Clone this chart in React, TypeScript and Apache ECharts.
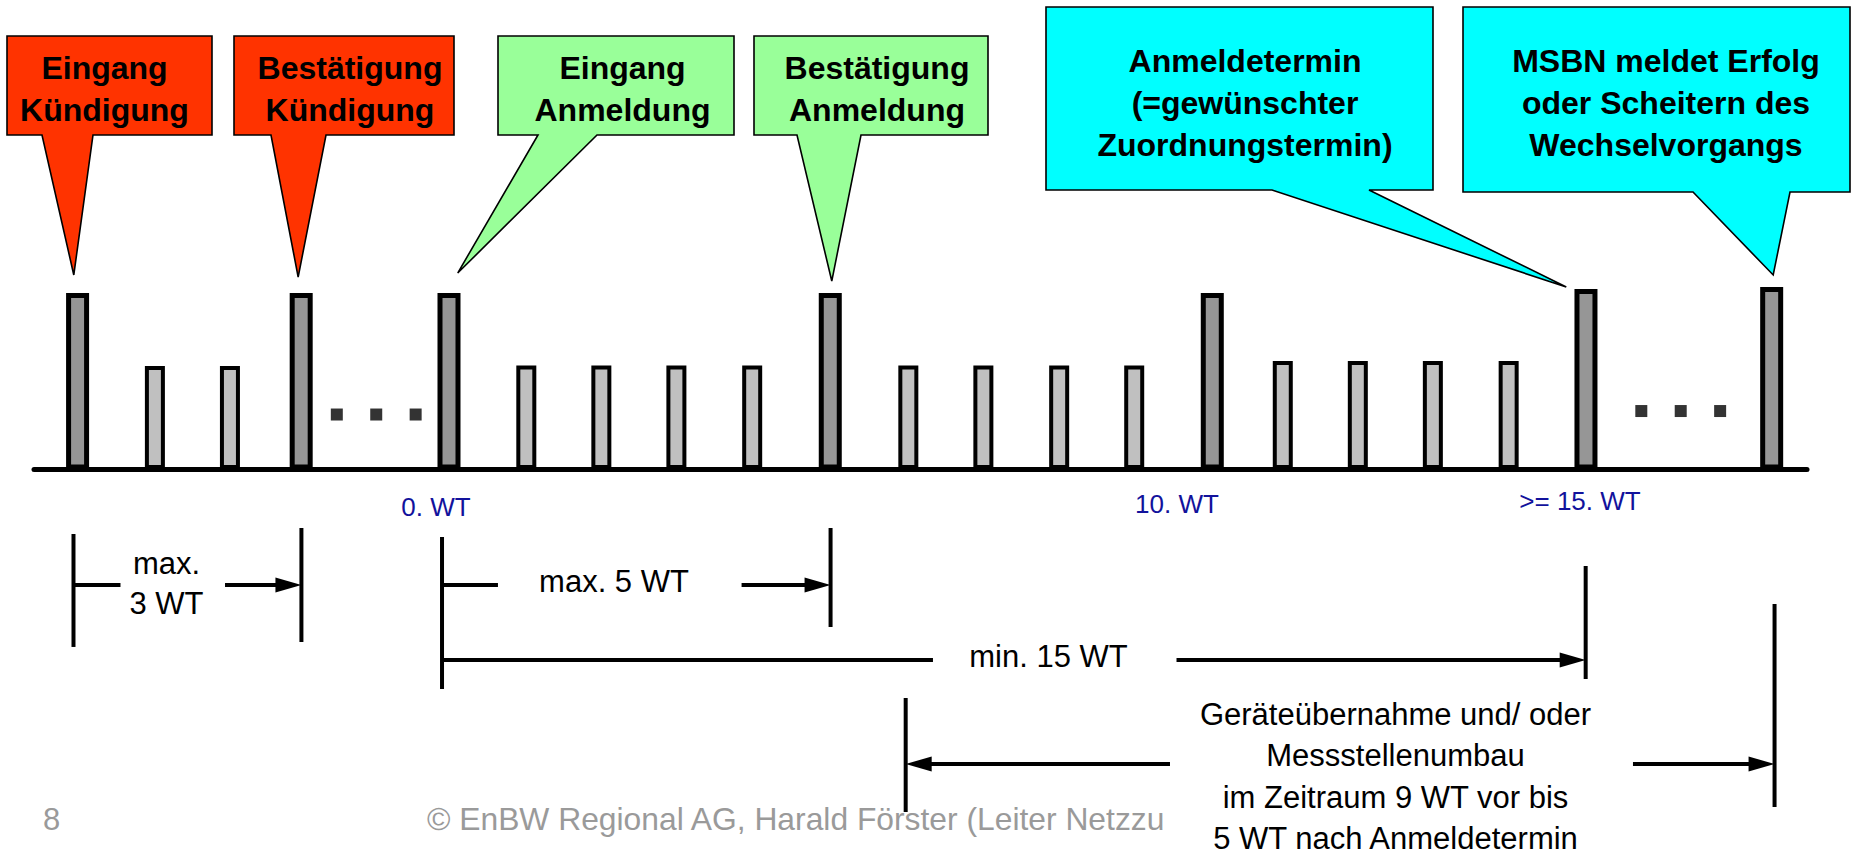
import React, { useEffect, useRef } from "react";
import * as echarts from "echarts";

// ---------- data (axis units: x = working days "WT", y = relative bar height) ----------
const BAR_X = [-4.9, -3.88, -2.89, -1.95, 0, 1.02, 2.01, 3.0, 4.0, 5.03, 6.06, 7.05, 8.05, 9.04, 10.07, 11.0, 11.99, 12.98, 13.98, 15.0, 17.45];
const BAR_H = [100, 58.3, 58.3, 100, 100, 58.6, 58.6, 58.6, 58.6, 100, 58.6, 58.6, 58.6, 58.6, 100, 61.2, 61.2, 61.2, 61.2, 102.3, 103.4];
const BAR_KIND = ["major", "minor", "minor", "major", "major", "minor", "minor", "minor", "minor", "major", "minor", "minor", "minor", "minor", "major", "minor", "minor", "minor", "minor", "major", "major"];

const DOT_X = [-1.48, -0.96, -0.44, 15.73, 16.25, 16.77];
const DOT_Y = [31.6, 31.6, 31.6, 33.6, 33.6, 33.6];

const CALLOUT_TEXT = [
  "Eingang\nKündigung",
  "Bestätigung\nKündigung",
  "Eingang\nAnmeldung",
  "Bestätigung\nAnmeldung",
  "Anmeldetermin\n(=gewünschter\nZuordnungstermin)",
  "MSBN meldet Erfolg\noder Scheitern des\nWechselvorgangs",
];
const CALLOUT_TIP_X = [-4.95, -1.99, 0.115, 5.05, 14.74, 17.47];
const CALLOUT_TIP_Y = [111.8, 110.6, 112.9, 108.3, 104.9, 111.8];

const WT_LABELS = ["0. WT", "10. WT", ">= 15. WT"];

// dimension lines: [x1, y1, x2, y2, arrowAtEnd]
const DIM_LINES = [
  [-4.954, -37.07, -4.954, -101.99, 0],
  [-1.947, -33.62, -1.947, -99.14, 0],
  [-0.092, -38.79, -0.092, -126.15, 0],
  [5.034, -33.62, 5.034, -90.52, 0],
  [14.996, -55.46, 14.996, -120.4, 0],
  [6.025, -131.32, 6.025, -196.84, 0],
  [17.488, -77.3, 17.488, -193.97, 0],
  [-4.954, -66.38, -4.334, -66.38, 0],
  [-2.955, -66.38, -1.947, -66.38, 1],
  [-0.092, -66.38, 0.646, -66.38, 0],
  [3.86, -66.38, 5.034, -66.38, 1],
  [-0.092, -109.48, 6.385, -109.48, 0],
  [9.598, -109.48, 14.996, -109.48, 1],
  [9.512, -169.25, 6.025, -169.25, 1],
  [15.62, -169.25, 17.488, -169.25, 1],
];

const DIM_TEXT = [
  "max.\n3 WT",
  "max. 5 WT",
  "min. 15 WT",
  "Geräteübernahme und/ oder\nMessstellenumbau\nim Zeitraum 9 WT vor bis\n5 WT nach Anmeldetermin",
];
const PAGE_NUMBER = "8";
const FOOTER_TEXT = "© EnBW Regional AG, Harald Förster (Leiter Netzzu";

// ---------- layout (pixels) ----------
const W = 1854;
const H = 852;
const FONT = "'Liberation Sans', Arial, Helvetica, sans-serif";
const XMIN = -5.475;
const XMAX = 17.916;
const YMIN = -219.83;
const YMAX = 269.83;

const CALLOUT_BOX = [
  [7, 36, 212, 135],
  [234, 36, 454, 135],
  [498, 36, 734, 135],
  [754, 36, 988, 135],
  [1046, 7, 1433, 190],
  [1463, 7, 1850, 192],
];
const CALLOUT_TAIL = [
  [42, 93],
  [271, 326],
  [538, 597],
  [797, 861],
  [1272, 1369],
  [1693, 1790],
];
const CALLOUT_TEXT_POS = [
  [104.5, 89],
  [350, 89],
  [622.5, 89],
  [877, 89],
  [1245, 102.5],
  [1666, 103],
];
const CALLOUT_FILL = ["#FF3300", "#FF3300", "#99FF99", "#99FF99", "#00FFFF", "#00FFFF"];

const WT_LABEL_POS = [
  [436, 507],
  [1177, 504],
  [1580, 501],
];
const DIM_TEXT_POS = [
  [166.5, 583, 40],
  [614, 581, 40],
  [1048.5, 656, 40],
  [1395.5, 776.5, 41.5],
];

function textEl(text: string, x: number, y: number, font: string, fill: string, lineHeight: number, align = "center") {
  return {
    type: "text",
    x,
    y,
    silent: true,
    style: {
      text,
      x: 0,
      y: 0,
      font,
      fill,
      align,
      textAlign: align,
      verticalAlign: "middle",
      textVerticalAlign: "middle",
      lineHeight,
    },
  };
}

export default function App() {
  const ref = useRef<HTMLDivElement>(null);

  useEffect(() => {
    document.body.style.margin = "0";
    const chart = echarts.init(ref.current!, null, { renderer: "svg", width: W, height: H });

    const graphicEls: any[] = [];
    WT_LABELS.forEach((t, i) => {
      graphicEls.push(textEl(t, WT_LABEL_POS[i][0], WT_LABEL_POS[i][1], `26px ${FONT}`, "#12129C", 30));
    });
    DIM_TEXT.forEach((t, i) => {
      graphicEls.push(textEl(t, DIM_TEXT_POS[i][0], DIM_TEXT_POS[i][1], `31px ${FONT}`, "#000", DIM_TEXT_POS[i][2]));
    });
    graphicEls.push(textEl(PAGE_NUMBER, 43, 819, `31px ${FONT}`, "#9A9A9A", 34, "left"));
    graphicEls.push(textEl(FOOTER_TEXT, 427, 819, `31.8px ${FONT}`, "#9A9A9A", 36, "left"));

    const option: any = {
      animation: false,
      backgroundColor: "#fff",
      grid: { left: 34, right: 47, top: 0, bottom: 0, containLabel: false },
      xAxis: {
        type: "value",
        min: XMIN,
        max: XMAX,
        z: 5,
        axisLine: { show: true, onZero: true, lineStyle: { color: "#000", width: 5 } },
        axisTick: { show: false },
        axisLabel: { show: false },
        splitLine: { show: false },
      },
      yAxis: {
        type: "value",
        min: YMIN,
        max: YMAX,
        axisLine: { show: false },
        axisTick: { show: false },
        axisLabel: { show: false },
        splitLine: { show: false },
      },
      tooltip: { show: false },
      graphic: { elements: graphicEls },
      series: [
        {
          type: "custom",
          name: "Tage",
          clip: false,
          z: 2,
          encode: { x: 0, y: 1 },
          data: BAR_X.map((x, i) => [x, BAR_H[i]]),
          renderItem: (params: any, api: any) => {
            const i = params.dataIndex;
            const top = api.coord([api.value(0), api.value(1)]);
            const base = api.coord([api.value(0), 0]);
            const major = BAR_KIND[i] === "major";
            const w = major ? 18 : 16;
            const lw = major ? 5 : 4;
            const bottom = base[1] - 2.5;
            return {
              type: "rect",
              shape: { x: top[0] - w / 2, y: top[1], width: w, height: bottom - top[1] },
              style: { fill: major ? "#969696" : "#C0C0C0", stroke: "#000", lineWidth: lw },
            };
          },
        },
        {
          type: "scatter",
          name: "Auslassung",
          symbol: "rect",
          symbolSize: 12,
          itemStyle: { color: "#000" },
          data: DOT_X.map((x, i) => [x, DOT_Y[i]]),
          z: 3,
        },
        {
          type: "custom",
          name: "Fristen",
          clip: false,
          z: 3,
          encode: { x: [0, 2], y: [1, 3] },
          data: DIM_LINES,
          renderItem: (params: any, api: any) => {
            const p1 = api.coord([api.value(0), api.value(1)]);
            const p2 = api.coord([api.value(2), api.value(3)]);
            const arrow = api.value(4) === 1;
            const children: any[] = [];
            const dx = p2[0] - p1[0];
            const dy = p2[1] - p1[1];
            const len = Math.sqrt(dx * dx + dy * dy) || 1;
            const ux = dx / len;
            const uy = dy / len;
            let end = p2;
            if (arrow) {
              const L = 26;
              const hw = 7.5;
              const bx = p2[0] - ux * L;
              const by = p2[1] - uy * L;
              end = [p2[0] - ux * (L - 3), p2[1] - uy * (L - 3)];
              children.push({
                type: "polygon",
                shape: { points: [[p2[0], p2[1]], [bx - uy * hw, by + ux * hw], [bx + uy * hw, by - ux * hw]] },
                style: { fill: "#000", stroke: "none" },
              });
            }
            children.push({
              type: "line",
              shape: { x1: p1[0], y1: p1[1], x2: end[0], y2: end[1] },
              style: { stroke: "#000", lineWidth: 4 },
            });
            return { type: "group", children };
          },
        },
        {
          type: "custom",
          name: "Ereignisse",
          clip: false,
          z: 4,
          encode: { x: 0, y: 1 },
          data: CALLOUT_TIP_X.map((x, i) => [x, CALLOUT_TIP_Y[i]]),
          renderItem: (params: any, api: any) => {
            const i = params.dataIndex;
            const tip = api.coord([api.value(0), api.value(1)]);
            const [x0, y0, x1, y1] = CALLOUT_BOX[i];
            const [tl, tr] = CALLOUT_TAIL[i];
            const pts = [[x0, y0], [x1, y0], [x1, y1], [tr, y1], [tip[0], tip[1]], [tl, y1], [x0, y1]];
            return {
              type: "group",
              children: [
                {
                  type: "polygon",
                  shape: { points: pts },
                  style: { fill: CALLOUT_FILL[i], stroke: "#000", lineWidth: 1.6, lineJoin: "miter" },
                },
                {
                  type: "text",
                  style: {
                    text: CALLOUT_TEXT[i],
                    x: CALLOUT_TEXT_POS[i][0],
                    y: CALLOUT_TEXT_POS[i][1],
                    font: `bold 32px ${FONT}`,
                    fill: "#000",
                    align: "center",
                    textAlign: "center",
                    verticalAlign: "middle",
                    textVerticalAlign: "middle",
                    lineHeight: 42,
                  },
                },
              ],
            };
          },
        },
      ],
    };

    chart.setOption(option);
    return () => chart.dispose();
  }, []);

  return <div ref={ref} style={{ width: W, height: H, background: "#fff" }} />;
}
